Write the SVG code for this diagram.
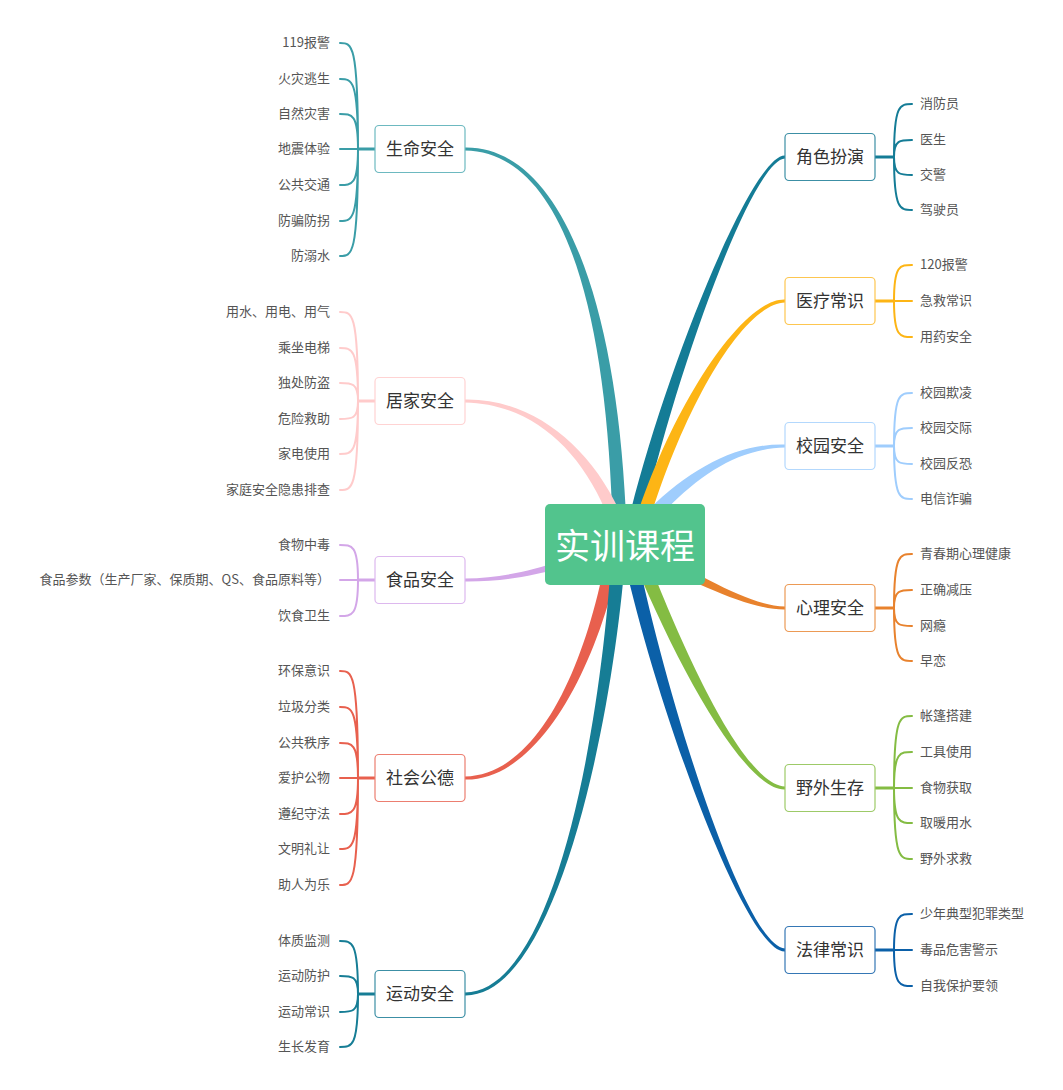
<svg xmlns="http://www.w3.org/2000/svg" width="1063" height="1090" viewBox="0 0 1063 1090">
<style>
.bg{fill:#ffffff}
.lf{fill:none;stroke-width:2;stroke-linecap:round}
.st{fill:none;stroke-width:3}
.box{fill:#ffffff;stroke-width:1.2}
.t{font-family:"Noto Sans CJK SC","Noto Sans",sans-serif;font-size:17px;fill:#333333;text-anchor:middle;dominant-baseline:central;transform:translateY(-1.5px)}
.l{font-family:"Noto Sans CJK SC","Noto Sans",sans-serif;font-size:13px;fill:#555555;dominant-baseline:central;transform:translateY(-1.5px)}
.le{text-anchor:end}
.ls{text-anchor:start}
.ct{font-family:"Noto Sans CJK SC","Noto Sans",sans-serif;font-size:35px;fill:#ffffff;text-anchor:middle;dominant-baseline:central;transform:translateY(-1.5px)}
.sm{fill:#3A9DA7;stroke:#3A9DA7}
.jj{fill:#FFCBCB;stroke:#FFCBCB}
.sp{fill:#D3A6E8;stroke:#D3A6E8}
.sh{fill:#E8604E;stroke:#E8604E}
.yd{fill:#167D95;stroke:#167D95}
.js{fill:#147C96;stroke:#147C96}
.yl{fill:#FDB515;stroke:#FDB515}
.xy{fill:#9FCDFD;stroke:#9FCDFD}
.xl{fill:#E8822D;stroke:#E8822D}
.yw{fill:#84BC43;stroke:#84BC43}
.fl{fill:#0B60A8;stroke:#0B60A8}
.lf.sm,.lf.jj,.lf.sp,.lf.sh,.lf.yd,.lf.js,.lf.yl,.lf.xy,.lf.xl,.lf.yw,.lf.fl,.st.sm,.st.jj,.st.sp,.st.sh,.st.yd,.st.js,.st.yl,.st.xy,.st.xl,.st.yw,.st.fl{fill:none}
.br.sm,.br.jj,.br.sp,.br.sh,.br.yd,.br.js,.br.yl,.br.xy,.br.xl,.br.yw,.br.fl{stroke:none}
</style>
<rect class="bg" x="0" y="0" width="1063" height="1090"/>
<g id="connectors">
  <!-- main tapered branches -->
  <path class="br sm" d="M465,147.5 C560,146 621,300 627,545 L613,545 C609,300 560,152 465,150.5 Z"/>
  <path class="br jj" d="M465,399.5 C540,398 605.8,458.3 631.7,543 L618.3,547 C594.2,461.7 540,404 465,402.5 Z"/>
  <path class="br sp" d="M465,578.5 C520,578 558.8,561.2 623.5,540.2 L626.5,549.8 C561.2,568.8 520,582 465,581.5 Z"/>
  <path class="br sh" d="M465,776.5 C540,775 589.1,659 608.1,543.8 L621.9,546.2 C600.9,661 540,781 465,779.5 Z"/>
  <path class="br yd" d="M465,992.5 C560,991 604,699.7 612,544.6 L626,545.4 C616,700.3 560,997 465,995.5 Z"/>
  <path class="br js" d="M785,158.5 C750,160 665.9,401.2 636.9,546.4 L623.1,543.6 C654.1,398.8 750,154 785,155.5 Z"/>
  <path class="br yl" d="M785,302.5 C740,304 675.8,421.6 641.7,546.9 L628.3,543.1 C664.2,418.4 740,298 785,299.5 Z"/>
  <path class="br xy" d="M785,447.5 C730,449 684.6,483.8 635.4,544.5 L624.6,535.5 C675.4,476.2 730,443 785,444.5 Z"/>
  <path class="br xl" d="M785,609.5 C750,610 698,584 637.5,554.9 L642.5,545.1 C702,576 750,606 785,606.5 Z"/>
  <path class="br yw" d="M785,789.5 C745,791 674.4,662.2 628.5,547.5 L641.5,542.5 C685.6,657.8 745,785 785,786.5 Z"/>
  <path class="br fl" d="M785,951.5 C745,953 654.1,701.2 621.1,546.4 L634.9,543.6 C665.9,698.8 745,947 785,948.5 Z"/>

  <!-- stems from node to junction -->
  <path class="st sm" d="M375,149 H358"/>
  <path class="st jj" d="M375,401 H358"/>
  <path class="st sp" d="M375,580 H358"/>
  <path class="st sh" d="M375,778 H358"/>
  <path class="st yd" d="M375,994 H358"/>
  <path class="st js" d="M875,157 H894"/>
  <path class="st yl" d="M875,301 H894"/>
  <path class="st xy" d="M875,446 H894"/>
  <path class="st xl" d="M875,608 H894"/>
  <path class="st yw" d="M875,788 H894"/>
  <path class="st fl" d="M875,950 H894"/>

  <!-- leaf curves, left -->
  <path class="lf sm" d="M358,149 C358,43 352,43 340,43 M358,149 C358,79 352,79 340,79 M358,149 C358,114 352,114 340,114 M358,149 L340,149 M358,149 C358,185 352,185 340,185 M358,149 C358,221 352,221 340,221 M358,149 C358,256 352,256 340,256"/>
  <path class="lf jj" d="M358,401 C358,312 352,312 340,312 M358,401 C358,348 352,348 340,348 M358,401 C358,383 352,383 340,383 M358,401 C358,419 352,419 340,419 M358,401 C358,454 352,454 340,454 M358,401 C358,490 352,490 340,490"/>
  <path class="lf sp" d="M358,580 C358,545 352,545 340,545 M358,580 L340,580 M358,580 C358,616 352,616 340,616"/>
  <path class="lf sh" d="M358,778 C358,671 352,671 340,671 M358,778 C358,707 352,707 340,707 M358,778 C358,743 352,743 340,743 M358,778 L340,778 M358,778 C358,814 352,814 340,814 M358,778 C358,849 352,849 340,849 M358,778 C358,885 352,885 340,885"/>
  <path class="lf yd" d="M358,994 C358,941 352,941 340,941 M358,994 C358,976 352,976 340,976 M358,994 C358,1012 352,1012 340,1012 M358,994 C358,1047 352,1047 340,1047"/>

  <!-- leaf curves, right -->
  <path class="lf js" d="M894,157 C894,104 900,104 912,104 M894,157 C894,140 900,140 912,140 M894,157 C894,175 900,175 912,175 M894,157 C894,210 900,210 912,210"/>
  <path class="lf yl" d="M894,301 C894,265 900,265 912,265 M894,301 L912,301 M894,301 C894,337 900,337 912,337"/>
  <path class="lf xy" d="M894,446 C894,393 900,393 912,393 M894,446 C894,428 900,428 912,428 M894,446 C894,464 900,464 912,464 M894,446 C894,499 900,499 912,499"/>
  <path class="lf xl" d="M894,608 C894,554 900,554 912,554 M894,608 C894,590 900,590 912,590 M894,608 C894,626 900,626 912,626 M894,608 C894,661 900,661 912,661"/>
  <path class="lf yw" d="M894,788 C894,716 900,716 912,716 M894,788 C894,752 900,752 912,752 M894,788 L912,788 M894,788 C894,823 900,823 912,823 M894,788 C894,859 900,859 912,859"/>
  <path class="lf fl" d="M894,950 C894,914 900,914 912,914 M894,950 L912,950 M894,950 C894,986 900,986 912,986"/>
</g>

<g id="center">
  <rect x="545" y="504" width="160" height="81" rx="5" fill="#52C48D"/>
  <text class="ct" x="625" y="544.5">实训课程</text>
</g>

<!-- left branch nodes -->
<g id="n-shengming">
  <rect class="box" x="375" y="125.5" width="90" height="47" rx="4" stroke="#6DB9C0"/>
  <text class="t" x="420" y="149">生命安全</text>
</g>
<g id="n-jujia">
  <rect class="box" x="375" y="377.5" width="90" height="47" rx="4" stroke="#FFD3D3"/>
  <text class="t" x="420" y="401">居家安全</text>
</g>
<g id="n-shipin">
  <rect class="box" x="375" y="556.5" width="90" height="47" rx="4" stroke="#DDB8EE"/>
  <text class="t" x="420" y="580">食品安全</text>
</g>
<g id="n-shehui">
  <rect class="box" x="375" y="754.5" width="90" height="47" rx="4" stroke="#EC7E70"/>
  <text class="t" x="420" y="778">社会公德</text>
</g>
<g id="n-yundong">
  <rect class="box" x="375" y="970.5" width="90" height="47" rx="4" stroke="#3C8FA5"/>
  <text class="t" x="420" y="994">运动安全</text>
</g>

<!-- right branch nodes -->
<g id="n-juese">
  <rect class="box" x="785" y="133.5" width="90" height="47" rx="4" stroke="#3C8FA5"/>
  <text class="t" x="830" y="157">角色扮演</text>
</g>
<g id="n-yiliao">
  <rect class="box" x="785" y="277.5" width="90" height="47" rx="4" stroke="#FDC650"/>
  <text class="t" x="830" y="301">医疗常识</text>
</g>
<g id="n-xiaoyuan">
  <rect class="box" x="785" y="422.5" width="90" height="47" rx="4" stroke="#B3D8FD"/>
  <text class="t" x="830" y="446">校园安全</text>
</g>
<g id="n-xinli">
  <rect class="box" x="785" y="584.5" width="90" height="47" rx="4" stroke="#EC9A55"/>
  <text class="t" x="830" y="608">心理安全</text>
</g>
<g id="n-yewai">
  <rect class="box" x="785" y="764.5" width="90" height="47" rx="4" stroke="#9DCA68"/>
  <text class="t" x="830" y="788">野外生存</text>
</g>
<g id="n-falv">
  <rect class="box" x="785" y="926.5" width="90" height="47" rx="4" stroke="#3577B5"/>
  <text class="t" x="830" y="950">法律常识</text>
</g>

<!-- left leaves -->
<g id="leaf-l-1"><text class="l le" x="330" y="43">119报警</text></g>
<g id="leaf-l-2"><text class="l le" x="330" y="79">火灾逃生</text></g>
<g id="leaf-l-3"><text class="l le" x="330" y="114">自然灾害</text></g>
<g id="leaf-l-4"><text class="l le" x="330" y="149">地震体验</text></g>
<g id="leaf-l-5"><text class="l le" x="330" y="185">公共交通</text></g>
<g id="leaf-l-6"><text class="l le" x="330" y="221">防骗防拐</text></g>
<g id="leaf-l-7"><text class="l le" x="330" y="256">防溺水</text></g>

<g id="leaf-l-8"><text class="l le" x="330" y="312">用水、用电、用气</text></g>
<g id="leaf-l-9"><text class="l le" x="330" y="348">乘坐电梯</text></g>
<g id="leaf-l-10"><text class="l le" x="330" y="383">独处防盗</text></g>
<g id="leaf-l-11"><text class="l le" x="330" y="419">危险救助</text></g>
<g id="leaf-l-12"><text class="l le" x="330" y="454">家电使用</text></g>
<g id="leaf-l-13"><text class="l le" x="330" y="490">家庭安全隐患排查</text></g>

<g id="leaf-l-14"><text class="l le" x="330" y="545">食物中毒</text></g>
<g id="leaf-l-15"><text class="l le" x="330" y="580">食品参数（生产厂家、保质期、QS、食品原料等）</text></g>
<g id="leaf-l-16"><text class="l le" x="330" y="616">饮食卫生</text></g>

<g id="leaf-l-17"><text class="l le" x="330" y="671">环保意识</text></g>
<g id="leaf-l-18"><text class="l le" x="330" y="707">垃圾分类</text></g>
<g id="leaf-l-19"><text class="l le" x="330" y="743">公共秩序</text></g>
<g id="leaf-l-20"><text class="l le" x="330" y="778">爱护公物</text></g>
<g id="leaf-l-21"><text class="l le" x="330" y="814">遵纪守法</text></g>
<g id="leaf-l-22"><text class="l le" x="330" y="849">文明礼让</text></g>
<g id="leaf-l-23"><text class="l le" x="330" y="885">助人为乐</text></g>

<g id="leaf-l-24"><text class="l le" x="330" y="941">体质监测</text></g>
<g id="leaf-l-25"><text class="l le" x="330" y="976">运动防护</text></g>
<g id="leaf-l-26"><text class="l le" x="330" y="1012">运动常识</text></g>
<g id="leaf-l-27"><text class="l le" x="330" y="1047">生长发育</text></g>

<!-- right leaves -->
<g id="leaf-r-1"><text class="l ls" x="920" y="104">消防员</text></g>
<g id="leaf-r-2"><text class="l ls" x="920" y="140">医生</text></g>
<g id="leaf-r-3"><text class="l ls" x="920" y="175">交警</text></g>
<g id="leaf-r-4"><text class="l ls" x="920" y="210">驾驶员</text></g>

<g id="leaf-r-5"><text class="l ls" x="920" y="265">120报警</text></g>
<g id="leaf-r-6"><text class="l ls" x="920" y="301">急救常识</text></g>
<g id="leaf-r-7"><text class="l ls" x="920" y="337">用药安全</text></g>

<g id="leaf-r-8"><text class="l ls" x="920" y="393">校园欺凌</text></g>
<g id="leaf-r-9"><text class="l ls" x="920" y="428">校园交际</text></g>
<g id="leaf-r-10"><text class="l ls" x="920" y="464">校园反恐</text></g>
<g id="leaf-r-11"><text class="l ls" x="920" y="499">电信诈骗</text></g>

<g id="leaf-r-12"><text class="l ls" x="920" y="554">青春期心理健康</text></g>
<g id="leaf-r-13"><text class="l ls" x="920" y="590">正确减压</text></g>
<g id="leaf-r-14"><text class="l ls" x="920" y="626">网瘾</text></g>
<g id="leaf-r-15"><text class="l ls" x="920" y="661">早恋</text></g>

<g id="leaf-r-16"><text class="l ls" x="920" y="716">帐篷搭建</text></g>
<g id="leaf-r-17"><text class="l ls" x="920" y="752">工具使用</text></g>
<g id="leaf-r-18"><text class="l ls" x="920" y="788">食物获取</text></g>
<g id="leaf-r-19"><text class="l ls" x="920" y="823">取暖用水</text></g>
<g id="leaf-r-20"><text class="l ls" x="920" y="859">野外求救</text></g>

<g id="leaf-r-21"><text class="l ls" x="920" y="914">少年典型犯罪类型</text></g>
<g id="leaf-r-22"><text class="l ls" x="920" y="950">毒品危害警示</text></g>
<g id="leaf-r-23"><text class="l ls" x="920" y="986">自我保护要领</text></g>
</svg>
